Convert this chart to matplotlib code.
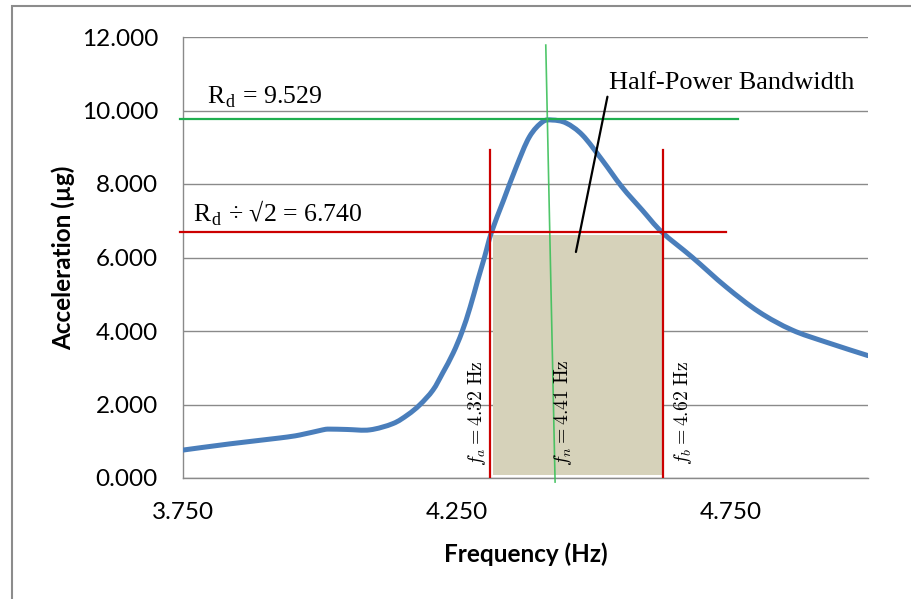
import matplotlib
matplotlib.use("Agg")
import matplotlib.pyplot as plt
from matplotlib.patches import Rectangle, PathPatch
from matplotlib.path import Path
import numpy as np

# ---- data ----
freq = [3.75, 3.836, 3.927, 3.963, 4.005, 4.018, 4.050, 4.091, 4.133, 4.160, 4.182,
        4.206, 4.224, 4.243, 4.259, 4.274, 4.288, 4.300, 4.313, 4.335, 4.358,
        4.382, 4.406, 4.424, 4.449, 4.479, 4.515, 4.551, 4.588, 4.624, 4.679,
        4.741, 4.801, 4.861, 4.923, 5.0]
accel = [0.76, 0.93, 1.09, 1.17, 1.31, 1.33, 1.32, 1.31, 1.48, 1.72, 1.99,
         2.39, 2.86, 3.40, 3.97, 4.65, 5.39, 6.00, 6.69, 7.56, 8.46,
         9.28, 9.69, 9.74, 9.66, 9.33, 8.65, 7.92, 7.29, 6.69, 6.01,
         5.20, 4.52, 4.03, 3.70, 3.33]

peak_level = 9.77          # drawn green horizontal
half_level = 6.69          # drawn red horizontal
fa_line, fb_line = 4.310, 4.626
fn_line = [4.412, 4.429]   # slightly tilted green vertical (top, bottom x)
fn_y = [11.78, -0.11]
band_x = [4.316, 4.624]
band_y = [0.08, 6.61]

y_ticks = [0, 2, 4, 6, 8, 10, 12]
y_ticklabels = ["0.000", "2.000", "4.000", "6.000", "8.000", "10.000", "12.000"]
x_ticks = [3.75, 4.25, 4.75]
x_ticklabels = ["3.750", "4.250", "4.750"]

label_rd = r"R$_\mathregular{d}$ = 9.529"
label_half = r"R$_\mathregular{d}$ ÷ √2 = 6.740"
label_fa = r"$f_a = 4.32\ \mathrm{Hz}$"
label_fn = r"$f_n = 4.41\ \mathrm{Hz}$"
label_fb = r"$f_b = 4.62\ \mathrm{Hz}$"

plt.rcParams["mathtext.fontset"] = "cm"

# ---- figure ----
W, H = 912, 599
fig = plt.figure(figsize=(W / 100, H / 100), dpi=100)
fig.patch.set_facecolor("white")

# outer chart border (left/top visible)
fig.add_artist(Rectangle((12 / W, -0.05), 1.2, (599 - 6) / H + 0.05, transform=fig.transFigure,
                         fill=False, edgecolor="#8c8c8c", linewidth=1.5))

ax = fig.add_axes([183 / W, (599 - 478) / H, (868 - 183) / W, (478 - 37) / H])
ax.set_xlim(3.75, 5.0)
ax.set_ylim(0, 12)

ax.yaxis.grid(True, color="#8a8a8a", linewidth=1.0)
ax.set_axisbelow(True)
for s in ["top", "right"]:
    ax.spines[s].set_visible(False)
for s in ["left", "bottom"]:
    ax.spines[s].set_color("#8a8a8a")
    ax.spines[s].set_linewidth(1.0)

ax.set_yticks(y_ticks)
ax.set_yticklabels(y_ticklabels, fontfamily="Lato", fontsize=17.5)
ax.set_xticks(x_ticks)
ax.set_xticklabels(x_ticklabels, fontfamily="Lato", fontsize=17.5)
ax.tick_params(axis="both", length=0)
ax.tick_params(axis="y", pad=18)
ax.tick_params(axis="x", pad=17)

ax.set_xlabel("Frequency (Hz)", fontfamily="Lato", fontweight="bold", fontsize=17.5, labelpad=14)
ax.set_ylabel("Acceleration (µg)", fontfamily="Lato", fontweight="bold", fontsize=17.5, labelpad=5)

# shaded band
ax.add_patch(Rectangle((band_x[0], band_y[0]), band_x[1] - band_x[0], band_y[1] - band_y[0],
                       facecolor="#d6d2ba", edgecolor="none", zorder=1.5))

# smoothed curve (Catmull-Rom style Bezier through the data points, like a smoothed line)
P = np.column_stack([freq, accel])
n = len(P)
verts = [tuple(P[0])]
codes = [Path.MOVETO]
for i in range(n - 1):
    p0 = P[i - 1] if i > 0 else P[i]
    p1 = P[i]
    p2 = P[i + 1]
    p3 = P[i + 2] if i + 2 < n else P[i + 1]
    c1 = p1 + (p2 - p0) / 6.0
    c2 = p2 - (p3 - p1) / 6.0
    verts += [tuple(c1), tuple(c2), tuple(p2)]
    codes += [Path.CURVE4] * 3
ax.add_patch(PathPatch(Path(verts, codes), facecolor="none", edgecolor="#4a7ebb",
                       linewidth=3.6, capstyle="round", joinstyle="round", zorder=3))

# reference lines
ax.plot([3.745, 4.763], [peak_level, peak_level], color="#1fae4f", linewidth=1.6,
        clip_on=False, zorder=4)
ax.plot(fn_line, fn_y, color="#3cc05a", linewidth=1.2, clip_on=False, zorder=4, alpha=0.9)
ax.plot([3.745, 4.741], [half_level, half_level], color="#cc0000", linewidth=1.6,
        clip_on=False, zorder=4)
ax.plot([fa_line, fa_line], [0, 8.93], color="#cc0000", linewidth=1.6, zorder=4)
ax.plot([fb_line, fb_line], [0, 8.93], color="#cc0000", linewidth=1.6, zorder=4)

# text labels
serif = "Liberation Serif"
ax.text(3.793, 10.2, label_rd, fontfamily=serif, fontsize=18.5, va="baseline", ha="left")
ax.text(3.768, 6.97, label_half, fontfamily=serif, fontsize=18.5, va="baseline", ha="left")

for xx, lab in [(4.287, label_fa), (4.443, label_fn), (4.662, label_fb)]:
    ax.text(xx, 1.78, lab, rotation=90, fontsize=14.2, ha="center", va="center", zorder=5)

# annotation
ax.annotate("Half-Power Bandwidth", xy=(4.467, 6.15), xytext=(4.528, 10.75),
            fontfamily=serif, fontsize=19, ha="left", va="center",
            arrowprops=dict(arrowstyle="-", color="black", linewidth=1.6,
                            shrinkA=0, shrinkB=0, relpos=(0, 0.3)), zorder=6)

fig.savefig("out.png", dpi=100)
